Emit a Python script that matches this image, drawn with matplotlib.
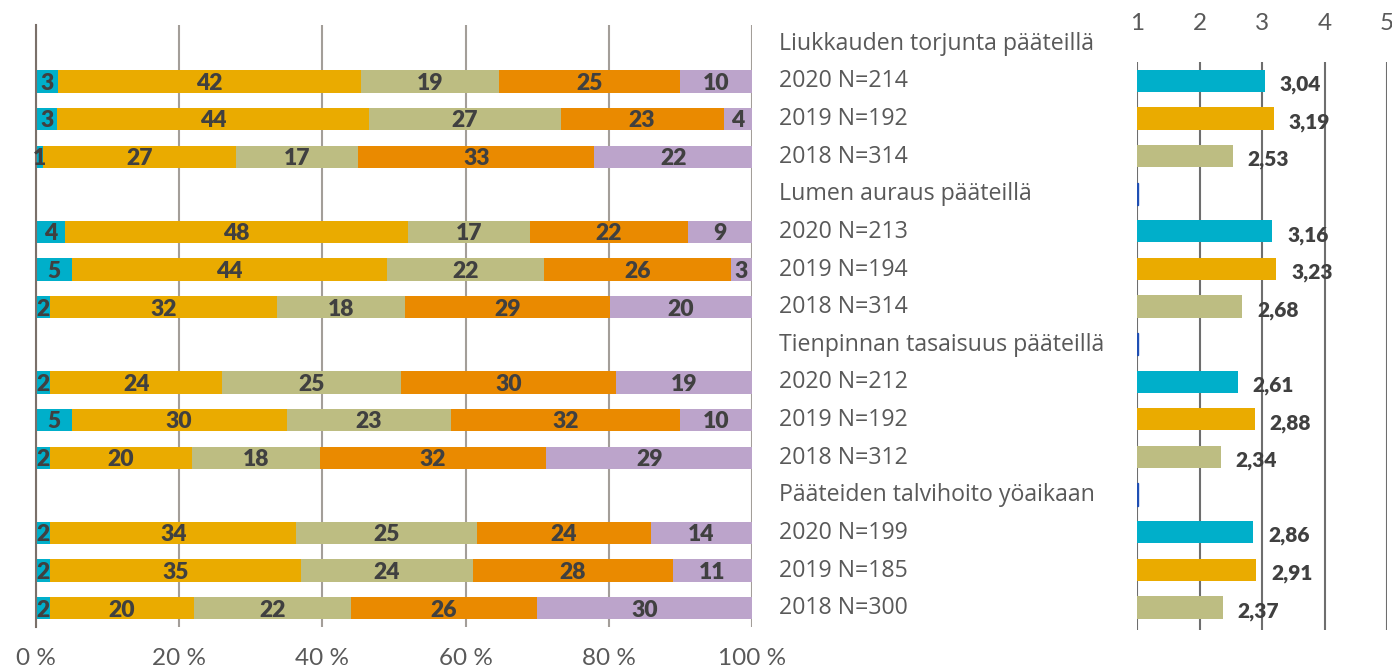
import numpy as np
import matplotlib.pyplot as plt
from matplotlib.transforms import blended_transform_factory

plt.rcParams['font.family'] = ['Lato', 'DejaVu Sans']
label_font = ['Open Sans', 'DejaVu Sans']

# row labels (headers + year rows), top to bottom
rows = ["Liukkauden torjunta pääteillä", "2020 N=214", "2019 N=192", "2018 N=314",
        "Lumen auraus pääteillä", "2020 N=213", "2019 N=194", "2018 N=314",
        "Tienpinnan tasaisuus pääteillä", "2020 N=212", "2019 N=192", "2018 N=312",
        "Pääteiden talvihoito yöaikaan", "2020 N=199", "2019 N=185", "2018 N=300"]
header_rows = [0, 4, 8, 12]

# distribution (%) per year row, five answer classes
s1 = [3, 3, 1, 4, 5, 2, 2, 5, 2, 2, 2, 2]
s2 = [42, 44, 27, 48, 44, 32, 24, 30, 20, 34, 35, 20]
s3 = [19, 27, 17, 17, 22, 18, 25, 23, 18, 25, 24, 22]
s4 = [25, 23, 33, 22, 26, 29, 30, 32, 32, 24, 28, 26]
s5 = [10, 4, 22, 9, 3, 20, 19, 10, 29, 14, 11, 30]

# mean scores (1-5)
means = [3.04, 3.19, 2.53, 3.16, 3.23, 2.68, 2.61, 2.88, 2.34, 2.86, 2.91, 2.37]
mean_labels = ["3,04", "3,19", "2,53", "3,16", "3,23", "2,68",
               "2,61", "2,88", "2,34", "2,86", "2,91", "2,37"]

seg_colors = ["#00AFCA", "#EAAB00", "#BDBD82", "#EA8A00", "#BCA4CB"]
year_colors = ["#00AFCA", "#EAAB00", "#BDBD82"]
lab_col = "#404040"
tick_col = "#595959"

W, H = 1392, 672
fig = plt.figure(figsize=(W / 100, H / 100), dpi=100)

# left: 100% stacked bars
ax = fig.add_axes([36 / W, 1 - 627 / H, (752 - 36) / W, (627 - 25) / H])
data_rows = [i for i in range(16) if i not in header_rows]
segs = np.array([s1, s2, s3, s4, s5], dtype=float)
segs = segs / segs.sum(axis=0) * 100
left = np.zeros(len(data_rows))
for k in range(5):
    ax.barh(data_rows, segs[k], left=left, height=0.59, color=seg_colors[k], zorder=2)
    raw = [s1, s2, s3, s4, s5][k]
    for j, y in enumerate(data_rows):
        ax.text(left[j] + segs[k][j] / 2, y + 0.05, str(raw[j]), ha="center", va="center",
                fontsize=16.5, fontweight="heavy", color=lab_col, zorder=3)
    left += segs[k]
ax.set_xlim(0, 100)
ax.set_ylim(15.5, -0.5)
ax.set_xticks(np.arange(0, 101, 20))
ax.xaxis.grid(True, color="#A39E99", linewidth=1.5, zorder=0)
ax.set_yticks([])
for sp in ["top", "right", "bottom"]:
    ax.spines[sp].set_visible(False)
ax.spines["left"].set_color("#7A706A")
ax.spines["left"].set_linewidth(1.5)
ax.tick_params(axis="x", length=0, pad=15, labelsize=17.5, labelcolor=tick_col)
ax.set_xticklabels([f"{v} %" for v in range(0, 101, 20)])

# row labels in the middle
tr = blended_transform_factory(fig.transFigure, ax.transData)
for i, r in enumerate(rows):
    ax.text(779 / W, i, r, transform=tr, ha="left", va="center", fontsize=16.7,
            color=tick_col, family=label_font)

# right: mean scores
ax2 = fig.add_axes([1137 / W, 1 - 630 / H, (1387 - 1137) / W, (630 - 62) / H])
ax2.barh(data_rows, np.array(means) - 1, left=1, height=0.59,
         color=[year_colors[j % 3] for j in range(12)], zorder=2)
ax2.barh([4, 8, 12], [0.02, 0.02, 0.02], left=1, height=0.59, color="#1F4FB4",
         edgecolor="#1F4FB4", linewidth=1, zorder=4)
for j, y in enumerate(data_rows):
    ax2.text(means[j] + 0.24, y + 0.1, mean_labels[j], ha="left", va="center",
             fontsize=15, fontweight="heavy", color=lab_col, zorder=3)
ax2.set_xlim(1, 5)
ax2.set_ylim(15.6, 0.5)
ax2.set_xticks([1, 2, 3, 4, 5])
ax2.xaxis.grid(True, color="#6E6E6E", linewidth=1.5, zorder=0)
ax2.set_yticks([])
for sp in ax2.spines.values():
    sp.set_visible(False)
ax2.xaxis.tick_top()
ax2.tick_params(axis="x", length=0, pad=20, labelsize=17.5, labelcolor=tick_col)

fig.savefig("out.png", dpi=100)
